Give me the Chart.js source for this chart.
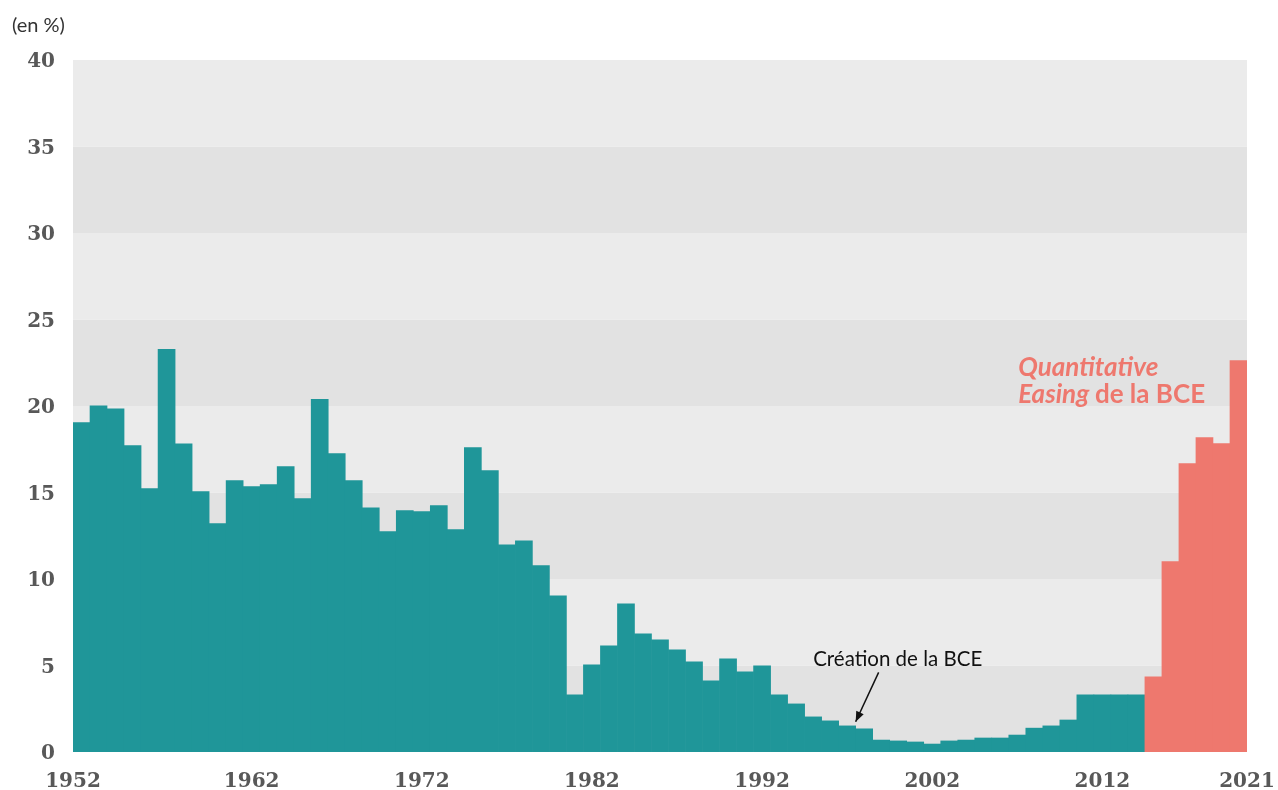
<!DOCTYPE html>
<html lang="fr">
<head>
<meta charset="utf-8">
<title>Taux en %</title>
<script src="https://cdn.jsdelivr.net/npm/chart.js@4/dist/chart.umd.min.js"></script>
<style>
    html, body { margin: 0; padding: 0; background: #fff; }
    #wrap { position: relative; width: 1278px; height: 790px; }
    #unit { position: absolute; left: 12px; top: 12px; font: 20px Lato, "Open Sans", sans-serif; color: #333; }
</style>
</head>
<body>
<div id="wrap">
    <canvas id="chart" width="1278" height="790"></canvas>
    <div id="unit">(en %)</div>
</div>
<script>
// Data
const years = [
    1952, 1953, 1954, 1955, 1956, 1957, 1958, 1959, 1960, 1961,
    1962, 1963, 1964, 1965, 1966, 1967, 1968, 1969, 1970, 1971,
    1972, 1973, 1974, 1975, 1976, 1977, 1978, 1979, 1980, 1981,
    1982, 1983, 1984, 1985, 1986, 1987, 1988, 1989, 1990, 1991,
    1992, 1993, 1994, 1995, 1996, 1997, 1998, 1999, 2000, 2001,
    2002, 2003, 2004, 2005, 2006, 2007, 2008, 2009, 2010, 2011,
    2012, 2013, 2014, 2015, 2016, 2017, 2018, 2019, 2020
];
const values = [
    19.04, 20.01, 19.84, 17.71, 15.22, 23.27, 17.81, 15.05, 13.20, 15.69,
    15.34, 15.46, 16.50, 14.65, 20.38, 17.25, 15.69, 14.12, 12.74, 13.95,
    13.89, 14.24, 12.85, 17.60, 16.27, 11.98, 12.21, 10.77, 9.03, 3.30,
    5.04, 6.14, 8.57, 6.83, 6.48, 5.90, 5.21, 4.11, 5.38, 4.63,
    4.98, 3.30, 2.78, 2.03, 1.80, 1.51, 1.34, 0.69, 0.64, 0.58,
    0.46, 0.64, 0.69, 0.81, 0.81, 0.98, 1.38, 1.51, 1.85, 3.30,
    3.30, 3.30, 3.30, 4.34, 11.00, 16.67, 18.18, 17.83, 22.63
];
const qeStartYear = 2015;
const xTickYears = [1952, 1962, 1972, 1982, 1992, 2002, 2012, 2021];
const yTicks = [0, 5, 10, 15, 20, 25, 30, 35, 40];

const TEAL = '#1f9699';
const SALMON = '#ee786e';
const BAND_DARK = '#e2e2e2';
const BAND_LIGHT = '#ebebeb';
const TICK_FONT = { family: '"DejaVu Serif", serif', size: 20, weight: 'bold' };
const NOTE_FONT = 'Lato, "Open Sans", sans-serif';

// Edge ticks (first / last year) sit on the axis ends, others on the bar centre
const xMin = xTickYears[0];
const xMax = xTickYears[xTickYears.length - 1];
const tickPos = y => (y === xMin || y === xMax) ? y : y + 0.5;

// Alternating horizontal bands behind the bars
const bandsPlugin = {
    id: 'bands',
    beforeDraw(chart) {
        const { ctx, chartArea, scales } = chart;
        ctx.save();
        for (let i = 0; i < yTicks.length - 1; i++) {
            const top = scales.y.getPixelForValue(yTicks[i + 1]);
            const bottom = scales.y.getPixelForValue(yTicks[i]);
            ctx.fillStyle = i % 2 === 0 ? BAND_DARK : BAND_LIGHT;
            ctx.fillRect(chartArea.left, top, chartArea.right - chartArea.left, bottom - top);
        }
        ctx.restore();
    }
};

// Text notes and arrow
const notesPlugin = {
    id: 'notes',
    afterDraw(chart) {
        const { ctx, scales } = chart;
        const x = scales.x, y = scales.y;
        ctx.save();

        // "Création de la BCE" with arrow pointing at 1998
        ctx.font = '20.5px ' + NOTE_FONT;
        ctx.fillStyle = '#111';
        ctx.textBaseline = 'alphabetic';
        ctx.textAlign = 'left';
        ctx.fillText('Création de la BCE', x.getPixelForValue(1995.5), y.getPixelForValue(4.95));

        const x0 = x.getPixelForValue(1999.35), y0 = y.getPixelForValue(4.6);
        const x1 = x.getPixelForValue(1998.0), y1 = y.getPixelForValue(1.75);
        ctx.strokeStyle = '#111';
        ctx.lineWidth = 1.5;
        ctx.beginPath();
        ctx.moveTo(x0, y0);
        ctx.lineTo(x1, y1);
        ctx.stroke();
        const ang = Math.atan2(y1 - y0, x1 - x0);
        const len = 11, spread = 0.38;
        ctx.fillStyle = '#111';
        ctx.beginPath();
        ctx.moveTo(x1, y1);
        ctx.lineTo(x1 - len * Math.cos(ang - spread), y1 - len * Math.sin(ang - spread));
        ctx.lineTo(x1 - len * Math.cos(ang + spread), y1 - len * Math.sin(ang + spread));
        ctx.closePath();
        ctx.fill();

        // "Quantitative Easing de la BCE"
        const qx = x.getPixelForValue(2007.55);
        ctx.fillStyle = SALMON;
        ctx.font = 'italic bold 26px ' + NOTE_FONT;
        ctx.fillText('Quantitative', qx, y.getPixelForValue(21.75));
        ctx.fillText('Easing', qx, y.getPixelForValue(20.15));
        const w = ctx.measureText('Easing ').width;
        ctx.font = 'bold 26px ' + NOTE_FONT;
        ctx.fillText('de la BCE', qx + w, y.getPixelForValue(20.15));

        ctx.restore();
    }
};

const ctx = document.getElementById('chart').getContext('2d');
const chart = new Chart(ctx, {
    type: 'bar',
    data: {
        datasets: [{
            data: years.map((yr, i) => ({ x: yr + 0.5, y: values[i] })),
            backgroundColor: years.map(yr => yr >= qeStartYear ? SALMON : TEAL),
            borderWidth: 0,
            barPercentage: 1.0,
            categoryPercentage: 1.0
        }]
    },
    plugins: [bandsPlugin, notesPlugin],
    options: {
        responsive: false,
        animation: false,
        layout: {
            padding: { top: 60, right: 31, left: 0, bottom: 0 }
        },
        scales: {
            x: {
                type: 'linear',
                offset: false,
                min: xMin,
                max: xMax,
                grid: { display: false, drawTicks: false },
                border: { display: false },
                afterBuildTicks: scale => {
                    scale.ticks = xTickYears.map(yr => ({ value: tickPos(yr) }));
                },
                afterFit: scale => {
                    scale.height = 38;
                    scale.paddingLeft = 0;
                    scale.paddingRight = 0;
                },
                ticks: {
                    autoSkip: false,
                    maxRotation: 0,
                    padding: 18,
                    color: '#585858',
                    font: TICK_FONT,
                    callback: v => String(Math.floor(v))
                }
            },
            y: {
                min: 0,
                max: 40,
                grid: { display: false, drawTicks: false },
                border: { display: false },
                afterBuildTicks: scale => {
                    scale.ticks = yTicks.map(v => ({ value: v }));
                },
                afterFit: scale => { scale.width = 73; },
                ticks: {
                    padding: 18,
                    labelOffset: 2,
                    color: '#585858',
                    font: TICK_FONT
                }
            }
        },
        plugins: {
            legend: { display: false },
            tooltip: { enabled: false }
        }
    }
});
</script>
</body>
</html>
